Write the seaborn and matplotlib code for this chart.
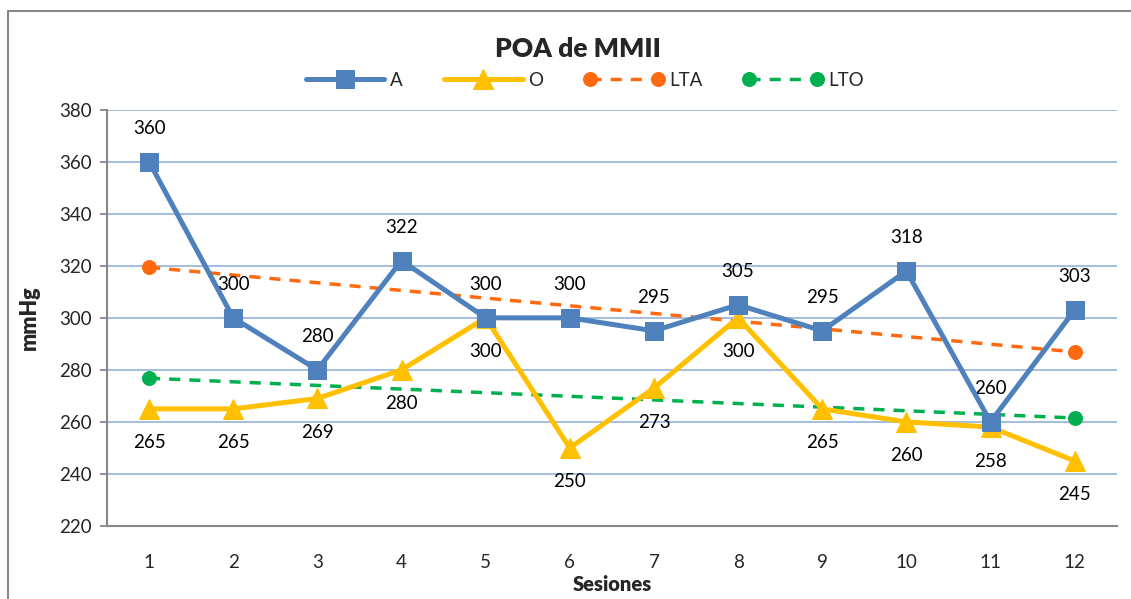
import pandas as pd
import matplotlib
matplotlib.use('Agg')
import matplotlib.pyplot as plt
import seaborn as sns
from matplotlib.lines import Line2D
from matplotlib.legend_handler import HandlerLine2D

# valores
sesiones = [1, 2, 3, 4, 5, 6, 7, 8, 9, 10, 11, 12]
serie_a = [360, 300, 280, 322, 300, 300, 295, 305, 295, 318, 260, 303]
serie_o = [265, 265, 269, 280, 300, 250, 273, 300, 265, 260, 258, 245]
# extremos de las lineas de tendencia
tend_x = [1, 12]
tend_a = [319.4, 286.9]
tend_o = [276.8, 261.5]

azul = '#4F81BD'
amarillo = '#FFC000'
naranja = '#FF6A10'
verde = '#00B050'
gris = '#878787'

sns.set_theme(style='white')
plt.rcParams['font.family'] = ['Lato', 'DejaVu Sans']

df = pd.DataFrame({'Sesion': sesiones, 'A': serie_a, 'O': serie_o})
df_t = pd.DataFrame({'x': tend_x, 'LTA': tend_a, 'LTO': tend_o})

fig = plt.figure(figsize=(11.31, 5.99), dpi=100)
ax = fig.add_axes([0.0946, 0.1219, 0.8928, 0.695])

sns.lineplot(data=df_t, x='x', y='LTA', ax=ax, color=naranja, lw=2.5,
             linestyle=(0, (3.2, 2.6)), marker='o', markersize=10,
             markeredgecolor=naranja, label='LTA', zorder=2)
sns.lineplot(data=df_t, x='x', y='LTO', ax=ax, color=verde, lw=2.5,
             linestyle=(0, (3.2, 2.6)), marker='o', markersize=10,
             markeredgecolor=verde, label='LTO', zorder=2)
sns.lineplot(data=df, x='Sesion', y='O', ax=ax, color=amarillo, lw=3.6,
             marker='^', markersize=14, markeredgecolor=amarillo, label='O', zorder=3)
sns.lineplot(data=df, x='Sesion', y='A', ax=ax, color=azul, lw=3.6,
             marker='s', markersize=13, markeredgecolor=azul, label='A', zorder=4)

# etiquetas de datos
for x, y in zip(sesiones, serie_a):
    ax.annotate(str(y), (x, y), xytext=(0, 24), textcoords='offset points',
                ha='center', va='center', fontsize=13.5, color='black')
for x, y in zip(sesiones, serie_o):
    ax.annotate(str(y), (x, y), xytext=(0, -24.5), textcoords='offset points',
                ha='center', va='center', fontsize=13.5, color='black')

ax.set_xlim(0.5, 12.5)
ax.set_ylim(220, 380)
ax.set_xticks(sesiones)
ax.set_yticks(range(220, 381, 20))
ax.yaxis.grid(True, color='#9DB9DC', lw=1.3)
ax.xaxis.grid(False)
ax.set_axisbelow(True)
for s in ['top', 'right']:
    ax.spines[s].set_visible(False)
for s in ['left', 'bottom']:
    ax.spines[s].set_color(gris)
    ax.spines[s].set_linewidth(1.5)
ax.tick_params(axis='y', left=True, length=5, width=1.3, color=gris, labelsize=13.5, pad=6)
ax.tick_params(axis='x', bottom=False, labelsize=13.5, pad=14)
ax.set_xlabel('Sesiones', fontsize=14.5, fontweight='heavy', labelpad=3)
ax.set_ylabel('mmHg', fontsize=15.5, fontweight='heavy', labelpad=14)

fig.text(0.511, 0.918, 'POA de MMII', ha='center', va='center', fontsize=19, fontweight='heavy')

h, l = ax.get_legend_handles_labels()
orden = [l.index(k) for k in ['A', 'O', 'LTA', 'LTO']]
h = [h[i] for i in orden]
l = [l[i] for i in orden]
ax.legend(h, l, loc='center', bbox_to_anchor=(0.517, 0.866), bbox_transform=fig.transFigure,
          ncol=4, frameon=False, fontsize=13.5, handlelength=4.2, columnspacing=2.2,
          handletextpad=0.3, numpoints=1,
          handler_map={h[2]: HandlerLine2D(numpoints=2), h[3]: HandlerLine2D(numpoints=2)})

# marco exterior del grafico
fig.add_artist(Line2D([8 / 1131, 1], [1 - 11 / 599, 1 - 11 / 599], color=gris, lw=1.5,
                      transform=fig.transFigure))
fig.add_artist(Line2D([8 / 1131, 8 / 1131], [0, 1 - 11 / 599], color=gris, lw=1.5,
                      transform=fig.transFigure))

fig.savefig('out.png', dpi=100)
